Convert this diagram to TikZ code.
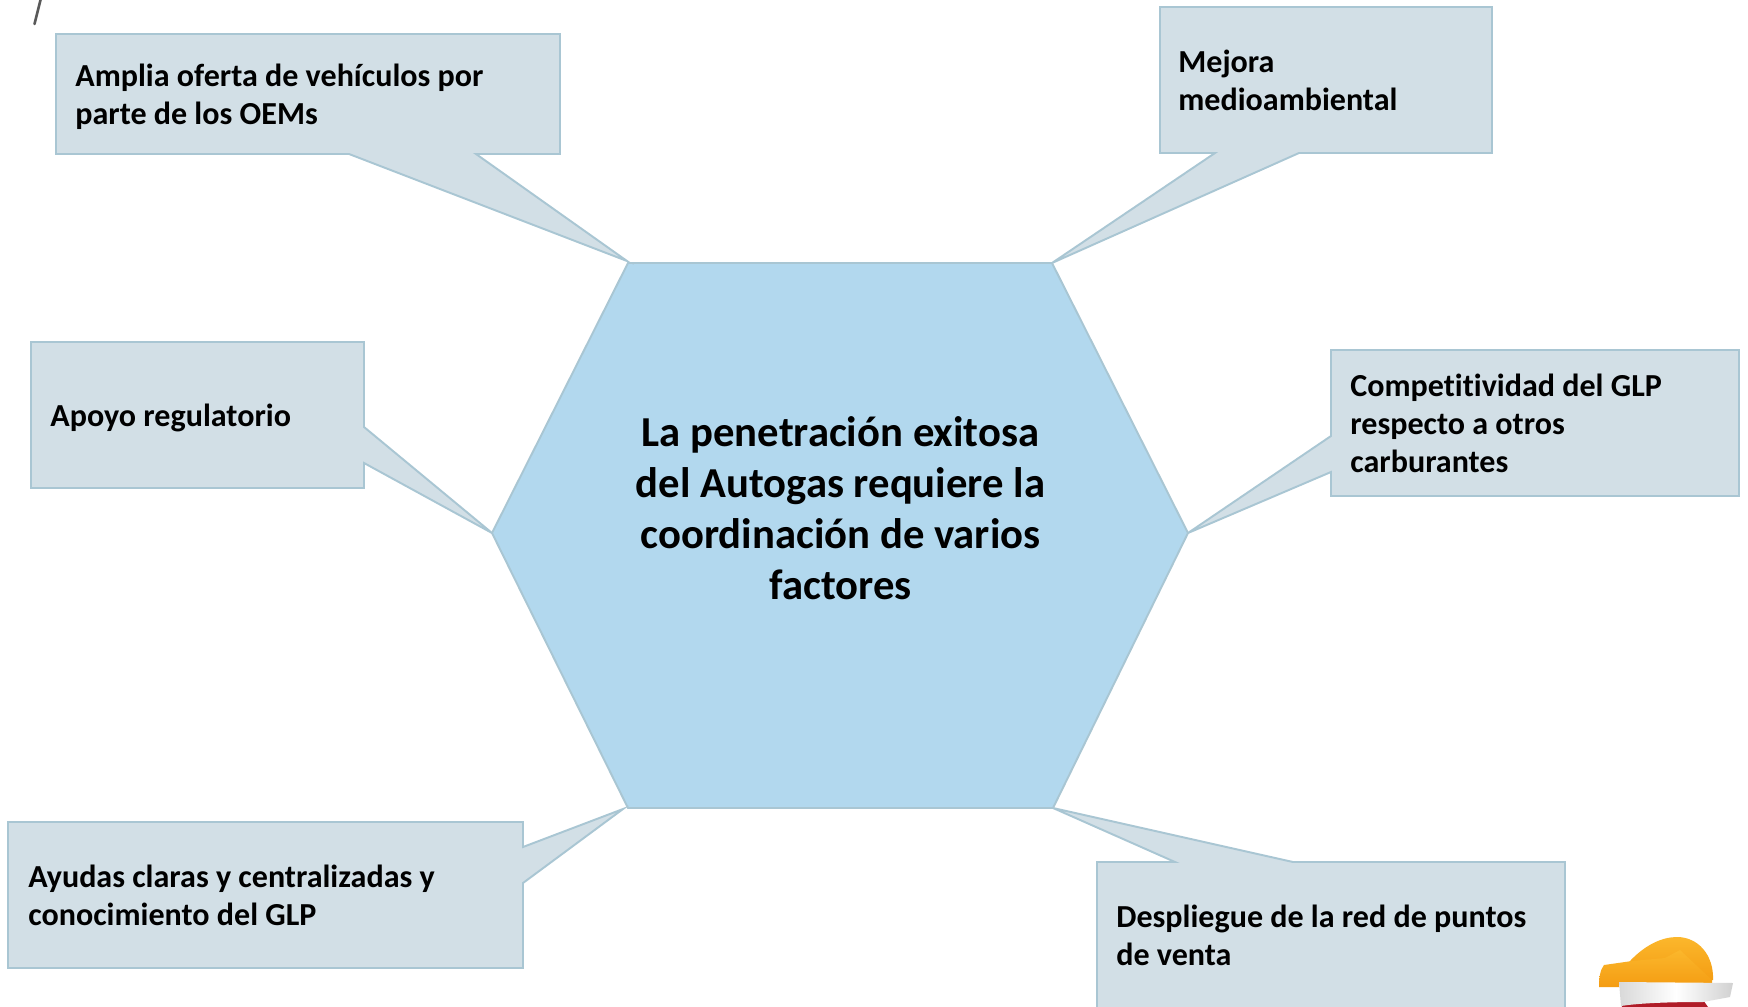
\documentclass[tikz,border=0pt]{standalone}
\usepackage{fontspec}
\setmainfont[Ligatures=NoCommon]{Carlito}
\definecolor{boxfill}{HTML}{D2DFE6}
\definecolor{boxline}{HTML}{A9C6D3}
\definecolor{hexfill}{HTML}{B2D8EE}
\definecolor{logolight}{HTML}{FBB72C}
\definecolor{logodark}{HTML}{F49C12}
\definecolor{logored}{HTML}{B01C28}
\tikzset{
  callout/.style={draw=boxline,fill=boxfill,line width=1.1pt,line join=miter},
  boxtext/.style={anchor=west,align=left,inner sep=0pt,font=\fontsize{18.25}{21.6}\selectfont\bfseries},
  hextext/.style={align=center,inner sep=0pt,font=\fontsize{24.3}{29.1}\selectfont\bfseries}
}
\begin{document}
\begin{tikzpicture}[x=0.02cm,y=-0.02cm]
\useasboundingbox (0,0) rectangle (1748,1007);
\clip (0,0) rectangle (1748,1007);
\fill [white] (0,0) rectangle (1748,1007);
% stroke at the top
\draw [black!65,line width=1.5pt,line cap=round] (41,-2) -- (34.5,24);
% hexagon
\draw [draw=boxline,fill=hexfill,line width=1.1pt] (628,263) -- (1052,263) -- (1188,533) -- (1053,808) -- (628,808) -- (492,533) -- cycle;
\node [hextext] (hexa) at (840.5,508) {La penetración exitosa\\del Autogas requiere la\\coordinación de varios\\factores};
% callouts
\draw [callout] (56,34) -- (560,34) -- (560,154) -- (476,154) -- (627,261) -- (349,154) -- (56,154) -- cycle;
\node [boxtext] (oferta) at (75,97) {Amplia oferta de vehículos por\\parte de los OEMs};
\draw [callout] (1160,7) -- (1492,7) -- (1492,153) -- (1299,153) -- (1052,263) -- (1215,153) -- (1160,153) -- cycle;
\node [boxtext] (mejora) at (1178,80) {Mejora\\medioambiental};
\draw [callout] (31,342) -- (364,342) -- (364,427) -- (492,533) -- (364,463) -- (364,488) -- (31,488) -- cycle;
\node [boxtext] (apoyo) at (50,418) {Apoyo regulatorio};
\draw [callout] (1331,350) -- (1739,350) -- (1739,496) -- (1331,496) -- (1331,472) -- (1188,533) -- (1331,436) -- cycle;
\node [boxtext] (compet) at (1350,423) {Competitividad del GLP\\respecto a otros\\carburantes};
\draw [callout] (8,822) -- (523,822) -- (523,847) -- (623,809) -- (523,883) -- (523,968) -- (8,968) -- cycle;
\node [boxtext] (ayudas) at (28,895) {Ayudas claras y centralizadas y\\conocimiento del GLP};
\draw [callout] (1097,862) -- (1175,862) -- (1053,808) -- (1293,862) -- (1565,862) -- (1565,1030) -- (1097,1030) -- cycle;
\node [boxtext] (red) at (1116,935) {Despliegue de la red de puntos\\de venta};
% logo
\shade [top color=logolight,bottom color=logodark] (1630,961) .. controls (1645,945) and (1662,937) .. (1677,937) .. controls (1698,937) and (1714,955) .. (1713,980) -- (1640,982) -- (1620,975) -- cycle;
\shade [top color=logolight,bottom color=logodark] (1604,965) -- (1632,961) -- (1665,958) -- (1680,950) -- (1712,980) -- (1712,983) -- (1619,983) -- (1619,987) -- (1599,987) .. controls (1599,978) and (1600,970) .. (1604,965) -- cycle;
\fill [logored] (1621,1000) -- (1703,1000) -- (1708,1007) -- (1622,1007) -- cycle;
\shade [left color=black!15,right color=black!18,middle color=white] (1619,982) -- (1733,983) -- (1730,997) -- (1703,1002) .. controls (1670,1002) and (1640,1003) .. (1621,1006) -- cycle;
\end{tikzpicture}
\end{document}
